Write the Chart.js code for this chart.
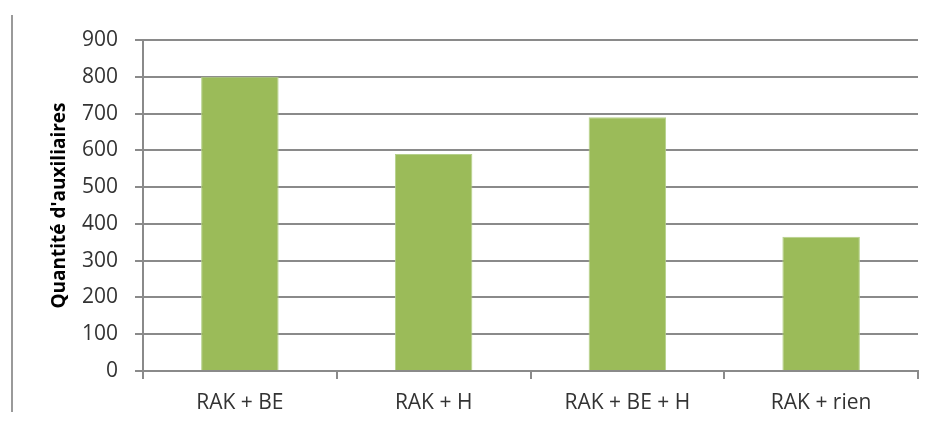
<!DOCTYPE html>
<html>
<head>
<meta charset="utf-8">
<script src="https://cdn.jsdelivr.net/npm/chart.js@4.4.1/dist/chart.umd.min.js"></script>
<style>
  html, body { margin: 0; padding: 0; background: #ffffff; }
  #wrap { position: relative; width: 934px; height: 425px; }
  #frame { position: absolute; left: 11px; top: 15px; width: 0; height: 397px; border-left: 2px solid #9a9a9a; }
  canvas { position: absolute; left: 0; top: 0; }
</style>
</head>
<body>
<div id="wrap">
  <div id="frame"></div>
  <canvas id="c" width="934" height="425"></canvas>
</div>
<script>
// Treatments and counted beneficial insects
const categories = ['RAK + BE', 'RAK + H', 'RAK + BE + H', 'RAK + rien'];
const counts = [800, 590, 690, 365];
const yTicks = [0, 100, 200, 300, 400, 500, 600, 700, 800, 900];
const yTitle = "Quantité d'auxiliaires";

const FONT = "'Open Sans', 'DejaVu Sans', sans-serif";
const GRID = '#8a8a8a';

new Chart(document.getElementById('c'), {
  type: 'bar',
  data: {
    labels: categories,
    datasets: [{
      data: counts,
      backgroundColor: '#9bbb59',
      borderColor: '#b5d08a',
      borderWidth: 1,
      barPercentage: 0.4,
      categoryPercentage: 1.0
    }]
  },
  options: {
    responsive: false,
    animation: false,
    layout: { padding: { left: 48, right: 16, top: 40, bottom: 0 } },
    plugins: { legend: { display: false }, tooltip: { enabled: false } },
    scales: {
      x: {
        offset: true,
        grid: {
          display: true,
          drawOnChartArea: false,
          offset: true,
          color: GRID,
          lineWidth: 2,
          tickLength: 8
        },
        border: { display: true, color: GRID, width: 2 },
        ticks: {
          color: '#333333',
          font: { family: FONT, size: 21 },
          padding: 11,
          maxRotation: 0
        },
        afterFit(scale) { scale.height = 54; }
      },
      y: {
        min: 0,
        max: 900,
        afterBuildTicks(scale) { scale.ticks = yTicks.map(v => ({ value: v })); },
        grid: { color: GRID, lineWidth: 2, tickLength: 8 },
        border: { display: true, color: GRID, width: 2 },
        ticks: {
          color: '#333333',
          font: { family: FONT, size: 21 },
          padding: 17
        },
        title: {
          display: true,
          text: yTitle,
          color: '#000000',
          font: { family: FONT, size: 19, weight: 'bold' },
          padding: 0
        },
        afterFit(scale) { scale.width = 95; }
      }
    }
  }
});
</script>
</body>
</html>
